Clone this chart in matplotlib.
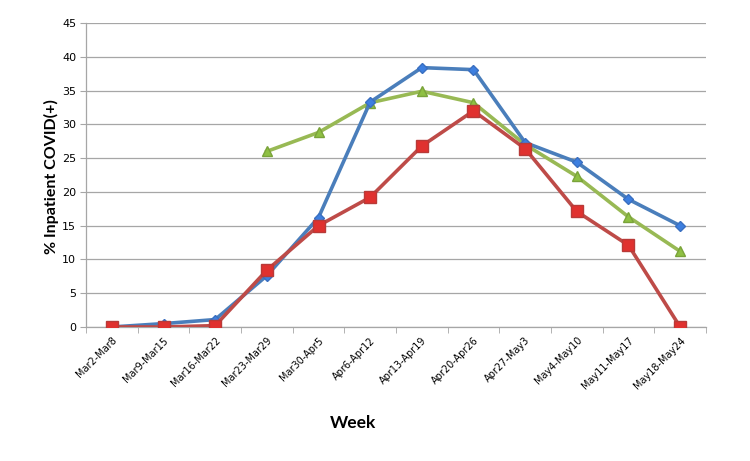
import numpy as np
import matplotlib
matplotlib.use('Agg')
import matplotlib.pyplot as plt

weeks = ['Mar2-Mar8', 'Mar9-Mar15', 'Mar16-Mar22', 'Mar23-Mar29', 'Mar30-Apr5',
         'Apr6-Apr12', 'Apr13-Apr19', 'Apr20-Apr26', 'Apr27-May3', 'May4-May10',
         'May11-May17', 'May18-May24']
blue_vals = [0, 0.5, 1.1, 7.6, 16.2, 33.3, 38.4, 38.1, 27.3, 24.4, 18.9, 15.0]
red_vals = [0, 0, 0.2, 8.4, 15.0, 19.2, 26.8, 32.0, 26.4, 17.1, 12.1, 0]
green_vals = [np.nan, np.nan, np.nan, 26.0, 28.8, 33.2, 34.9, 33.2, 27.0, 22.3, 16.3, 11.2]

fig = plt.figure(figsize=(7.5, 4.61), dpi=100)
ax = fig.add_axes([0.1147, 0.2907, 0.8266, 0.6593])

x = np.arange(len(weeks))
ax.plot(x, green_vals, color='#98b954', lw=2.6, marker='^', ms=7.5,
        mfc='#8fc043', mec='#7aa33a', zorder=3)
ax.plot(x, blue_vals, color='#4a7ebb', lw=2.6, marker='D', ms=5.5,
        mfc='#3d7fe0', mec='#3a6fc0', zorder=4)
ax.plot(x, red_vals, color='#be4b48', lw=2.6, marker='s', ms=8,
        mfc='#e0312f', mec='#b83a38', zorder=5)

ax.set_xlim(-0.5, len(weeks) - 0.5)
ax.set_ylim(0, 45)
ax.set_yticks(np.arange(0, 46, 5))
ax.yaxis.grid(True, color='#a6a6a6', lw=0.9)
ax.set_axisbelow(True)

ax.set_xticks(x)
ax.set_xticklabels(weeks, rotation=45, ha='right', rotation_mode='anchor',
                   fontsize=7)
ax.set_xticks(np.arange(-0.5, len(weeks), 1), minor=True)
ax.tick_params(axis='x', which='major', length=0, pad=6)
ax.tick_params(axis='x', which='minor', length=4, color='#a6a6a6')
ax.tick_params(axis='y', labelsize=8, length=4, color='#a6a6a6', pad=3)

for s in ['top', 'right']:
    ax.spines[s].set_visible(False)
for s in ['left', 'bottom']:
    ax.spines[s].set_color('#a6a6a6')
    ax.spines[s].set_linewidth(0.9)

ax.set_ylabel('% Inpatient COVID(+)', fontsize=11.5, fontweight='bold',
              family=['Lato', 'DejaVu Sans'])
ax.yaxis.set_label_coords(-0.043, 0.495)
fig.text(0.471, 0.082, 'Week', fontsize=12.5, fontweight='bold', ha='center',
         va='center', family=['Lato', 'DejaVu Sans'])

plt.savefig('out.png', dpi=100)
